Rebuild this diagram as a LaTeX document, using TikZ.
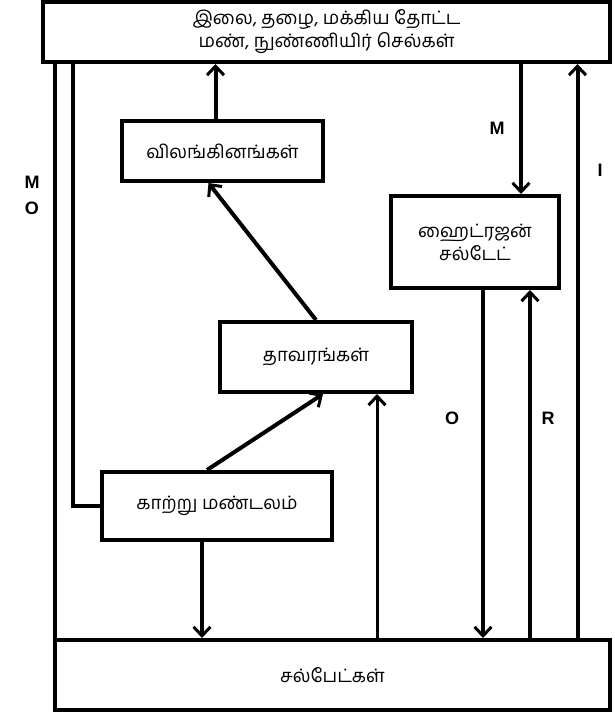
\documentclass[tikz,border=0pt]{standalone}
\usepackage{fontspec}
\setmainfont{Liberation Sans}
\newfontfamily\tamil[Script=Tamil]{Hind Madurai}
\usetikzlibrary{arrows.meta}
\tikzset{
  casella/.style = {rectangle, draw, line width=4pt, fill=white, inner sep=0, align=center, font=\tamil\fontsize{18.5}{23}\selectfont},
  link/.style    = {line width=4pt},
  fine/.style    = {line width=3pt},
  freccia/.style = {-{Straight Barb[length=9pt,width=17pt,line width=3pt]}},
  et/.style      = {font=\bfseries\fontsize{18}{18}\selectfont}
}

\begin{document}
\begin{tikzpicture}[x=1pt, y=-1pt]
  \useasboundingbox (0,0) rectangle (614,715);
  \node[casella, minimum width=567pt, minimum height=60pt] (cima) at (326.5,32) {இலை, தழை, மக்கிய தோட்ட\\மண், நுண்ணியிர் செல்கள்};
  \node[casella, minimum width=201pt, minimum height=60pt] (vil) at (222.5,151) {விலங்கினங்கள்};
  \node[casella, minimum width=168pt, minimum height=92pt] (hyd) at (475,242) {ஹைட்ரஜன்\\சல்டேட்};
  \node[casella, minimum width=192pt, minimum height=70pt] (tav) at (316,357) {தாவரங்கள்};
  \node[casella, minimum width=230pt, minimum height=68pt] (kat) at (217,506) {காற்று மண்டலம்};
  \node[casella, minimum width=555pt, minimum height=70pt] (sal) at (332.5,675) {சல்பேட்கள்};

  % lati sinistri
  \draw[link] ([xshift=2pt]sal.north west |- cima.south) -- ([xshift=2pt]sal.north west);
  \draw[link] ([xshift=32pt]cima.south west) |- (kat.west);
  \node[et] (m1) at (32,182) {M};
  \node[et] (o1) at (32,208) {O};

  % centro
  \draw[link,freccia] ([xshift=-7pt]vil.north) -- ([xshift=-7pt]vil.north |- cima.south);
  \draw[link,freccia] (tav.north) -- ([xshift=-14pt]vil.south);
  \draw[link,freccia] ([xshift=-10pt]kat.north) -- ([xshift=7pt]tav.south);
  \draw[link,freccia] ([xshift=-15pt]kat.south) -- ([xshift=-15pt]kat.south |- sal.north);
  \draw[fine,freccia] ([xshift=61pt]tav.south |- sal.north) -- ([xshift=61pt]tav.south);

  % destra
  \draw[link,freccia] ([xshift=46pt]hyd.north |- cima.south) -- ([xshift=46pt]hyd.north);
  \draw[link,freccia] ([xshift=8pt]hyd.south) -- ([xshift=8pt]hyd.south |- sal.north);
  \draw[link,freccia] ([xshift=55pt]hyd.south |- sal.north) -- ([xshift=55pt]hyd.south);
  \draw[link,freccia] ([xshift=245pt]sal.north) -- ([xshift=245pt]sal.north |- cima.south);
  \node[et] (m2) at (497,128) {M};
  \node[et] (i2) at (600,170) {I};
  \node[et] (o2) at (452,418) {O};
  \node[et] (r2) at (548,418) {R};
\end{tikzpicture}
\end{document}
